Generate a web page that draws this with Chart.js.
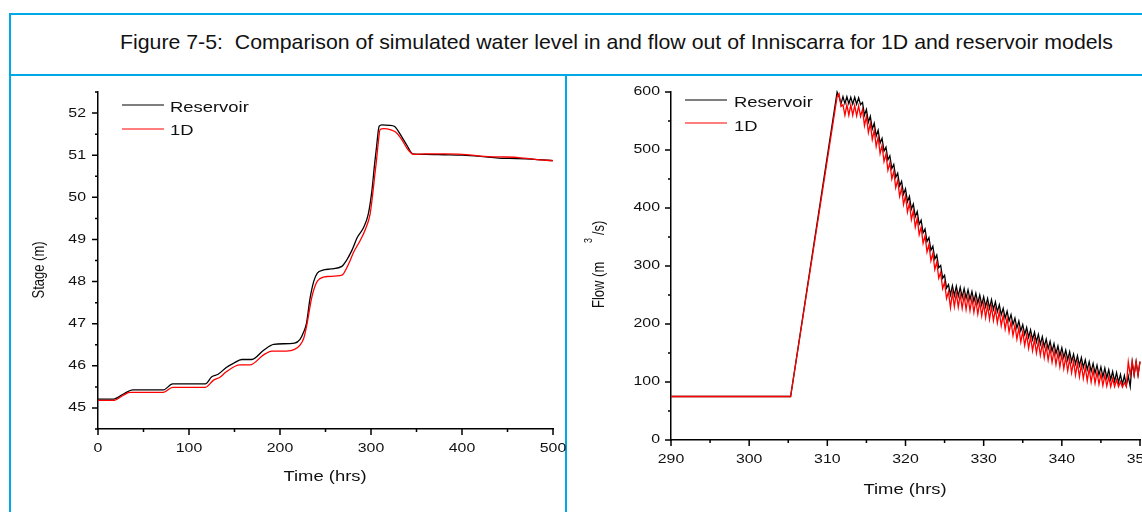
<!DOCTYPE html>
<html>
<head>
<meta charset="utf-8">
<script src="https://cdn.jsdelivr.net/npm/chart.js@4.4.1/dist/chart.umd.min.js"></script>
<style>
  html, body { margin: 0; padding: 0; overflow: hidden; background: #fff; }
  body { width: 1142px; height: 512px; position: relative; }
  .rule { position: absolute; background: #00a9e6; }
  #title { position: absolute; left: 120px; top: 31px; font: 21px "Liberation Sans", Arial, sans-serif;
           line-height: 21px; white-space: nowrap; color: #111; transform-origin: 0 0; }
  canvas { position: absolute; }
</style>
</head>
<body>
<div class="rule" style="left:9px;top:13px;width:1133px;height:2px"></div>
<div class="rule" style="left:9px;top:13px;width:2px;height:499px"></div>
<div class="rule" style="left:9px;top:74px;width:1133px;height:2px"></div>
<div class="rule" style="left:565px;top:74px;width:2px;height:438px"></div>
<div id="title">Figure 7-5:&nbsp; Comparison of simulated water level in and flow out of Inniscarra for 1D and reservoir models</div>
<canvas id="stageChart" width="546" height="432" style="left:20px;top:80px"></canvas>
<canvas id="flowChart" width="600" height="432" style="left:575px;top:80px"></canvas>
<script>
// ---- stage (left) ----
var stageResTime = [0, 17, 28, 38, 72, 82, 118, 125, 132, 141, 149, 158, 169, 182, 193, 216, 222, 226, 229, 233,
    237, 241, 247, 256, 268, 273, 279, 285, 292, 297, 301, 304, 306, 309, 312, 320, 326, 332, 339, 346,
    360, 380, 400, 420, 440, 460, 480, 500];
var stageRes = [45.21, 45.21, 45.33, 45.43, 45.43, 45.57, 45.57, 45.74, 45.80, 45.96, 46.06, 46.15, 46.15, 46.37, 46.51, 46.54, 46.63, 46.8, 47.0, 47.6,
    48.0, 48.2, 48.27, 48.3, 48.36, 48.5, 48.74, 49.05, 49.29, 49.6, 50.16, 50.8, 51.18, 51.69, 51.72, 51.71, 51.68, 51.5, 51.25, 51.03,
    51.02, 51.01, 51.0, 50.97, 50.93, 50.92, 50.9, 50.87];
var stage1DTime = [0, 17, 27, 35, 72, 82, 118, 127, 134, 141, 156, 167, 182, 191, 207, 216, 222, 226, 229, 235,
    240, 244, 252, 268, 275, 281, 288, 294, 299, 302, 304, 306, 308, 310, 314, 322, 327, 333, 340, 347,
    360, 380, 400, 420, 440, 460, 480, 500];
var stage1D = [45.18, 45.18, 45.29, 45.37, 45.37, 45.49, 45.49, 45.66, 45.73, 45.86, 46.02, 46.02, 46.26, 46.35, 46.35, 46.39, 46.49, 46.65, 46.92, 47.63,
    47.97, 48.07, 48.12, 48.15, 48.4, 48.7, 48.97, 49.25, 49.6, 50.1, 50.5, 50.87, 51.3, 51.61, 51.63, 51.6, 51.55, 51.4, 51.15, 51.02,
    51.03, 51.03, 51.02, 50.98, 50.96, 50.95, 50.9, 50.87];
var stageXTicks = [0, 100, 200, 300, 400, 500];
var stageXMinor = [50, 150, 250, 350, 450];
var stageYTicks = [45, 46, 47, 48, 49, 50, 51, 52];
var stageYMinor = [44.5, 45.5, 46.5, 47.5, 48.5, 49.5, 50.5, 51.5, 52.5];

// ---- flow (right) ----
var flowTime = [290, 305.3, 311.25, 311.5, 311.75,
    312, 312.25, 312.5, 312.75, 313, 313.25, 313.5, 313.75, 314, 314.25, 314.5, 314.75,
    315, 315.25, 315.5, 315.75, 316, 316.25, 316.5, 316.75, 317, 317.25, 317.5, 317.75,
    318, 318.25, 318.5, 318.75, 319, 319.25, 319.5, 319.75, 320, 320.25, 320.5, 320.75,
    321, 321.25, 321.5, 321.75, 322, 322.25, 322.5, 322.75, 323, 323.25, 323.5, 323.75,
    324, 324.25, 324.5, 324.75, 325, 325.25, 325.5, 325.75, 326, 326.25, 326.5, 326.75,
    327, 327.25, 327.5, 327.75, 328, 328.25, 328.5, 328.75, 329, 329.25, 329.5, 329.75,
    330, 330.25, 330.5, 330.75, 331, 331.25, 331.5, 331.75, 332, 332.25, 332.5, 332.75,
    333, 333.25, 333.5, 333.75, 334, 334.25, 334.5, 334.75, 335, 335.25, 335.5, 335.75,
    336, 336.25, 336.5, 336.75, 337, 337.25, 337.5, 337.75, 338, 338.25, 338.5, 338.75,
    339, 339.25, 339.5, 339.75, 340, 340.25, 340.5, 340.75, 341, 341.25, 341.5, 341.75,
    342, 342.25, 342.5, 342.75, 343, 343.25, 343.5, 343.75, 344, 344.25, 344.5, 344.75,
    345, 345.25, 345.5, 345.75, 346, 346.25, 346.5, 346.75, 347, 347.25, 347.5, 347.75,
    348, 348.25, 348.5, 348.75, 349, 349.25, 349.5, 349.75, 350];
var flowRes = [75, 75, 600, 592, 580,
    592, 580, 592, 580, 591, 579, 591, 579, 590, 578, 582, 560,
    570, 548, 558, 536, 546, 524, 534, 512, 520, 498, 505, 483,
    490, 468, 475, 453, 460, 438, 446, 424, 433, 411, 420, 398,
    407, 385, 394, 372, 379, 357, 364, 342, 349, 327, 334, 312,
    319, 297, 301, 279, 284, 262, 268, 250, 266, 249, 265, 248,
    263, 246, 261, 244, 259, 242, 256, 239, 253, 236, 250, 233,
    247, 230, 244, 227, 242, 225, 238, 221, 233, 216, 227, 210,
    222, 205, 216, 199, 210, 193, 205, 188, 199, 182, 194, 177,
    190, 173, 186, 169, 182, 165, 178, 161, 174, 157, 170, 153,
    166, 149, 162, 145, 159, 142, 155, 138, 152, 135, 148, 131,
    145, 128, 142, 125, 138, 121, 135, 118, 132, 115, 129, 112,
    126, 109, 124, 107, 121, 104, 118, 101, 116, 99, 113, 96,
    111, 94, 110, 92, 135, 112, 135, 112, 135];
var flow1D = [75, 75, 592, 597, 575,
    578, 560, 578, 560, 578, 560, 577, 559, 576, 558, 570, 542,
    558, 530, 546, 518, 534, 506, 522, 494, 508, 480, 493, 465,
    478, 450, 463, 435, 448, 420, 434, 406, 421, 393, 408, 380,
    395, 367, 382, 354, 367, 339, 352, 324, 337, 309, 322, 294,
    307, 279, 289, 261, 272, 244, 256, 228, 254, 230, 253, 229,
    251, 227, 249, 225, 247, 223, 244, 220, 241, 217, 238, 214,
    235, 211, 232, 208, 230, 206, 226, 202, 221, 197, 215, 191,
    210, 186, 204, 180, 198, 174, 193, 169, 187, 163, 182, 158,
    178, 154, 174, 150, 170, 146, 166, 142, 162, 138, 158, 134,
    154, 130, 150, 126, 147, 123, 143, 119, 140, 116, 136, 112,
    133, 109, 130, 106, 126, 102, 123, 100, 120, 98, 117, 96,
    114, 94, 112, 93, 109, 92, 106, 92, 104, 92, 101, 91,
    99, 92, 135, 112, 135, 112, 135, 112, 135];
var flowXTicks = [290, 300, 310, 320, 330, 340, 350];
var flowXMinor = [295, 305, 315, 325, 335, 345];
var flowYTicks = [0, 100, 200, 300, 400, 500, 600];
var flowYMinor = [50, 150, 250, 350, 450, 550];

var seriesNames = ['Reservoir', '1D'];
var seriesColors = ['#000000', '#ff0000'];

// the source figure is stretched sideways, so its text is too
var STRETCH = 1.27;

function pairs(xs, ys) {
    var out = [];
    for (var i = 0; i < xs.length; i++) out.push({x: xs[i], y: ys[i]});
    return out;
}

// fixed-size axes so the plot box lands where the figure has it
function fixWidth(w) {
    return function (scale) { scale.width = w; scale.paddingTop = 0; scale.paddingBottom = 0; };
}
function fixHeight(h) {
    return function (scale) { scale.height = h; scale.paddingLeft = 0; scale.paddingRight = 0; };
}
function setTicks(list) {
    return function (scale) { scale.ticks = list.map(function (v) { return {value: v}; }); };
}

function drawText(ctx, text, x, y, font, align, baseline, rot) {
    ctx.save();
    ctx.font = font;
    ctx.textAlign = align;
    ctx.textBaseline = baseline;
    ctx.translate(x, y);
    ctx.scale(STRETCH, 1);
    if (rot) ctx.rotate(rot);
    ctx.fillText(text, 0, 0);
    ctx.restore();
}

// ticks (major + minor), tick labels, legend inside the plot and axis titles
var decoPlugin = {
    id: 'deco',
    afterDraw: function (chart, args, o) {
        var ctx = chart.ctx, a = chart.chartArea, xs = chart.scales.x, ys = chart.scales.y;
        ctx.save();
        ctx.strokeStyle = '#000';
        ctx.lineWidth = 1.5;
        ctx.beginPath();
        o.xMajor.forEach(function (v) { var p = xs.getPixelForValue(v); ctx.moveTo(p, a.bottom); ctx.lineTo(p, a.bottom + 6); });
        o.xMinor.forEach(function (v) { var p = xs.getPixelForValue(v); ctx.moveTo(p, a.bottom); ctx.lineTo(p, a.bottom + 3); });
        o.yMajor.forEach(function (v) { var p = ys.getPixelForValue(v); ctx.moveTo(a.left, p); ctx.lineTo(a.left - 6, p); });
        o.yMinor.forEach(function (v) { var p = ys.getPixelForValue(v); ctx.moveTo(a.left, p); ctx.lineTo(a.left - 3, p); });
        ctx.stroke();

        ctx.fillStyle = '#111';
        var tf = '12.5px "Liberation Sans"';
        o.xMajor.forEach(function (v) {
            drawText(ctx, String(v), xs.getPixelForValue(v), a.bottom + o.xLabelGap, tf, 'center', 'middle');
        });
        o.yMajor.forEach(function (v) {
            drawText(ctx, String(v), a.left - o.yLabelGap, ys.getPixelForValue(v), tf, 'right', 'middle');
        });

        // legend
        var lg = o.legend;
        chart.data.datasets.forEach(function (ds, i) {
            ctx.strokeStyle = ds.borderColor;
            ctx.lineWidth = 1.2;
            ctx.beginPath();
            ctx.moveTo(lg.x1, lg.lineY[i]);
            ctx.lineTo(lg.x2, lg.lineY[i]);
            ctx.stroke();
            ctx.fillStyle = '#111';
            drawText(ctx, ds.label, lg.textX, lg.textY[i], lg.font, 'left', 'alphabetic');
        });

        // axis titles
        ctx.fillStyle = '#111';
        o.texts.forEach(function (t) {
            drawText(ctx, t.text, t.x, t.y, t.font, t.align || 'center', t.baseline || 'middle', t.rot);
        });
        ctx.restore();
    }
};

function makeChart(id, sets, cfg) {
    return new Chart(document.getElementById(id).getContext('2d'), {
        type: 'line',
        data: {
            datasets: sets.map(function (s, i) {
                return {
                    label: seriesNames[i],
                    data: s,
                    borderColor: seriesColors[i],
                    borderWidth: 1.3,
                    pointRadius: 0,
                    fill: false,
                    clip: false,
                    order: 1 - i,
                    cubicInterpolationMode: cfg.smooth ? 'monotone' : 'default',
                    tension: 0
                };
            })
        },
        options: {
            responsive: false,
            animation: false,
            events: [],
            layout: {padding: cfg.padding},
            plugins: {legend: {display: false}, tooltip: {enabled: false}, deco: cfg.deco},
            scales: {
                x: {
                    type: 'linear', min: cfg.xMin, max: cfg.xMax,
                    grid: {display: false, drawTicks: false},
                    border: {display: true, color: '#000', width: 1.5},
                    ticks: {display: false},
                    afterBuildTicks: setTicks(cfg.deco.xMajor),
                    afterFit: fixHeight(cfg.xHeight)
                },
                y: {
                    type: 'linear', min: cfg.yMin, max: cfg.yMax,
                    grid: {display: false, drawTicks: false},
                    border: {display: true, color: '#000', width: 1.5},
                    ticks: {display: false},
                    afterBuildTicks: setTicks(cfg.deco.yMajor),
                    afterFit: fixWidth(cfg.yWidth)
                }
            }
        },
        plugins: [decoPlugin]
    });
}

makeChart('stageChart', [pairs(stageResTime, stageRes), pairs(stage1DTime, stage1D)], {
    smooth: true, xMin: 0, xMax: 500, yMin: 44.5, yMax: 52.5,
    padding: {left: 0, top: 12, right: 13, bottom: 0}, yWidth: 78, xHeight: 83,
    deco: {
        xMajor: stageXTicks, xMinor: stageXMinor, yMajor: stageYTicks, yMinor: stageYMinor,
        xLabelGap: 20, yLabelGap: 12,
        legend: {x1: 102, x2: 144, lineY: [25, 49], textX: 150, textY: [32.3, 55], font: '14.5px "Liberation Sans"'},
        texts: [
            {text: 'Stage (m)', x: 19.5, y: 190, rot: -Math.PI / 2, font: '13px "Liberation Sans"'},
            {text: 'Time (hrs)', x: 305, y: 397, font: '14.5px "Liberation Sans"'}
        ]
    }
});

makeChart('flowChart', [pairs(flowTime, flowRes), pairs(flowTime, flow1D)], {
    smooth: false, xMin: 290, xMax: 350, yMin: 0, yMax: 600,
    padding: {left: 0, top: 12, right: 35, bottom: 0}, yWidth: 96, xHeight: 72,
    deco: {
        xMajor: flowXTicks, xMinor: flowXMinor, yMajor: flowYTicks, yMinor: flowYMinor,
        xLabelGap: 20, yLabelGap: 11,
        legend: {x1: 110, x2: 152, lineY: [20, 43], textX: 159, textY: [27.3, 50.7], font: '14.5px "Liberation Sans"'},
        texts: [
            {text: 'Flow (m', x: 24, y: 228, rot: -Math.PI / 2, align: 'left', font: '13px "Liberation Sans"'},
            {text: '3', x: 14, y: 163, rot: -Math.PI / 2, align: 'left', font: '9px "Liberation Sans"'},
            {text: '/s)', x: 24, y: 155, rot: -Math.PI / 2, align: 'left', font: '13px "Liberation Sans"'},
            {text: 'Time (hrs)', x: 330, y: 410, font: '14.5px "Liberation Sans"'}
        ]
    }
});

// stretch the heading to the width it has in the figure
var title = document.getElementById('title');
var tw = title.getBoundingClientRect().width;
title.style.transform = 'scaleX(' + (993 / tw) + ')';
</script>
</body>
</html>
